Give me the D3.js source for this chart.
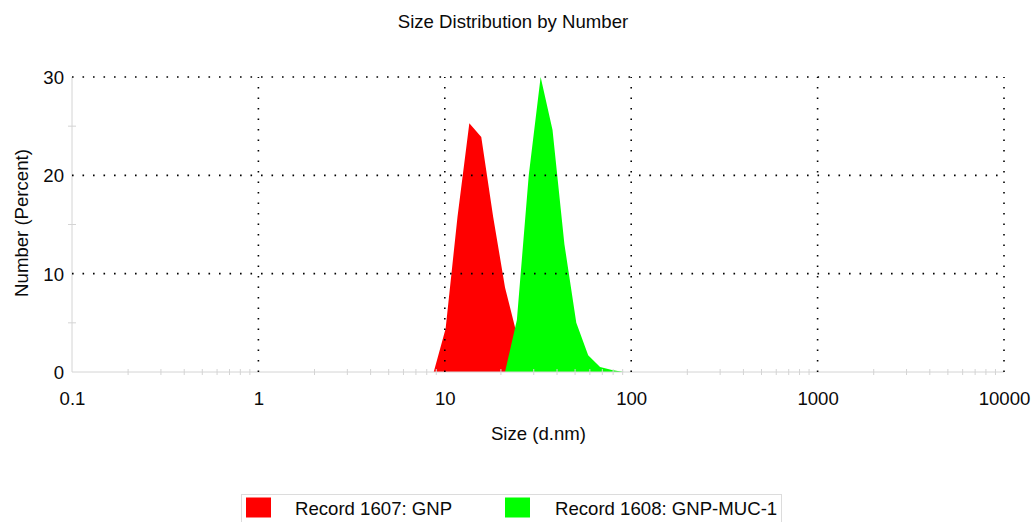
<!DOCTYPE html>
<html>
<head>
<meta charset="utf-8">
<script src="https://cdn.jsdelivr.net/npm/d3@7"></script>
<style>
  html, body { margin: 0; padding: 0; background: #fff; }
  svg { display: block; font-family: "Liberation Sans", Arial, sans-serif; }
</style>
</head>
<body>
<svg id="chart" width="1035" height="522"></svg>
<script>
// ---- data ----
const title = "Size Distribution by Number";
const xLabel = "Size (d.nm)";
const yLabel = "Number (Percent)";
const xTickValues = [0.1, 1, 10, 100, 1000, 10000];
const xTickLabels = ["0.1", "1", "10", "100", "1000", "10000"];
const yTickValues = [0, 10, 20, 30];
const yMinorValues = [5, 15, 25];
const seriesNames = ["Record 1607: GNP", "Record 1608: GNP-MUC-1"];
const seriesColors = ["#ff0000", "#00ff00"];
const gnpSizes  = [8.721, 10.10, 11.70, 13.54, 15.69, 18.17, 21.04, 24.36, 28.21, 32.67, 37.84];
const gnpValues = [0, 4.4, 15.8, 25.3, 23.9, 15.8, 8.6, 3.8, 1.2, 0.2, 0];
const mucSizes  = [21.04, 24.36, 28.21, 32.67, 37.84, 43.82, 50.75, 58.77, 68.06, 78.82, 91.28];
const mucValues = [0, 5.3, 20.0, 30.0, 24.6, 13.0, 5.0, 1.7, 0.5, 0.2, 0];

(function () {
// ---- layout ----
const svg = d3.select("#chart");
const pLeft = 72, pRight = 1004, pTop = 77, pBottom = 372;
const x = d3.scaleLog().domain([0.1, 10000]).range([pLeft, pRight]);
const y = d3.scaleLinear().domain([0, 30]).range([pBottom, pTop]);
const gridColor = "#000";
const axisColor = "#d4d4d4";
const fs = 18.6;
const txt = "#0a0a0a";

// title
svg.append("text").attr("x", 513).attr("y", 27.5).attr("text-anchor", "middle")
  .attr("font-size", fs).attr("fill", txt).text(title);

// areas (red first, green on top)
const area = d3.area().x(d => x(d[0])).y0(y(0)).y1(d => y(d[1]));
const series = [d3.zip(gnpSizes, gnpValues), d3.zip(mucSizes, mucValues)];
series.forEach((s, i) => {
  svg.append("path").attr("d", area(s)).attr("fill", seriesColors[i]);
});

// axis lines
svg.append("line").attr("x1", pLeft).attr("x2", pRight).attr("y1", pBottom).attr("y2", pBottom)
  .attr("stroke", axisColor).attr("stroke-width", 1);
svg.append("line").attr("x1", pLeft).attr("x2", pLeft).attr("y1", pTop).attr("y2", pBottom)
  .attr("stroke", axisColor).attr("stroke-width", 1);

// minor x ticks
const minorX = x.ticks().filter(v => !xTickValues.includes(v) && v > 0.1 && v < 10000);
svg.append("g").selectAll("line").data(minorX).join("line")
  .attr("x1", d => x(d)).attr("x2", d => x(d))
  .attr("y1", pBottom - 3).attr("y2", pBottom + 3)
  .attr("stroke", axisColor).attr("stroke-width", 1);
// minor y ticks
svg.append("g").selectAll("line").data(yMinorValues).join("line")
  .attr("x1", pLeft - 4).attr("x2", pLeft + 4)
  .attr("y1", d => y(d)).attr("y2", d => y(d))
  .attr("stroke", axisColor).attr("stroke-width", 1);

// dotted grid
const dots = "1.6 8.9";
svg.append("g").selectAll("line").data(yTickValues.filter(v => v > 0)).join("line")
  .attr("x1", pLeft).attr("x2", pRight)
  .attr("y1", d => y(d)).attr("y2", d => y(d))
  .attr("stroke", gridColor).attr("stroke-width", 1.6).attr("stroke-dasharray", dots);
svg.append("g").selectAll("line").data(xTickValues.filter(v => v > 0.1)).join("line")
  .attr("x1", d => x(d)).attr("x2", d => x(d))
  .attr("y1", pBottom).attr("y2", pTop)
  .attr("stroke", gridColor).attr("stroke-width", 1.6).attr("stroke-dasharray", dots);

// x axis labels via axis generator
const xAxis = d3.axisBottom(x).tickValues(xTickValues)
  .tickFormat((d, i) => xTickLabels[i]).tickSize(0).tickPadding(0);
const gx = svg.append("g").attr("transform", `translate(0,${pBottom})`).call(xAxis);
gx.select(".domain").remove();
gx.selectAll("text").attr("dy", null).attr("y", 33).attr("font-size", fs)
  .attr("fill", txt).attr("font-family", "Liberation Sans, Arial, sans-serif");

// y axis labels
const yAxis = d3.axisLeft(y).tickValues(yTickValues).tickSize(0).tickPadding(8);
const gy = svg.append("g").attr("transform", `translate(${pLeft},0)`).call(yAxis);
gy.select(".domain").remove();
gy.selectAll("text").attr("font-size", fs).attr("fill", txt)
  .attr("font-family", "Liberation Sans, Arial, sans-serif").attr("dy", "0.35em");

// axis titles
svg.append("text").attr("x", 538.5).attr("y", 440).attr("text-anchor", "middle")
  .attr("font-size", fs).attr("fill", txt).text(xLabel);
svg.append("text").attr("transform", "translate(28,223) rotate(-90)").attr("text-anchor", "middle")
  .attr("font-size", fs).attr("fill", txt).text(yLabel);

// legend
svg.append("rect").attr("x", 241.5).attr("y", 494.5).attr("width", 540).attr("height", 40)
  .attr("fill", "none").attr("stroke", "#dcdcdc").attr("stroke-width", 1);
const legendX = [246, 505];
const legendTextX = [295, 555];
seriesNames.forEach((n, i) => {
  svg.append("rect").attr("x", legendX[i]).attr("y", 497.5).attr("width", 25).attr("height", 20)
    .attr("fill", seriesColors[i]);
  svg.append("text").attr("x", legendTextX[i]).attr("y", 515).attr("font-size", fs)
    .attr("fill", txt).text(n);
});
})();
</script>
</body>
</html>
